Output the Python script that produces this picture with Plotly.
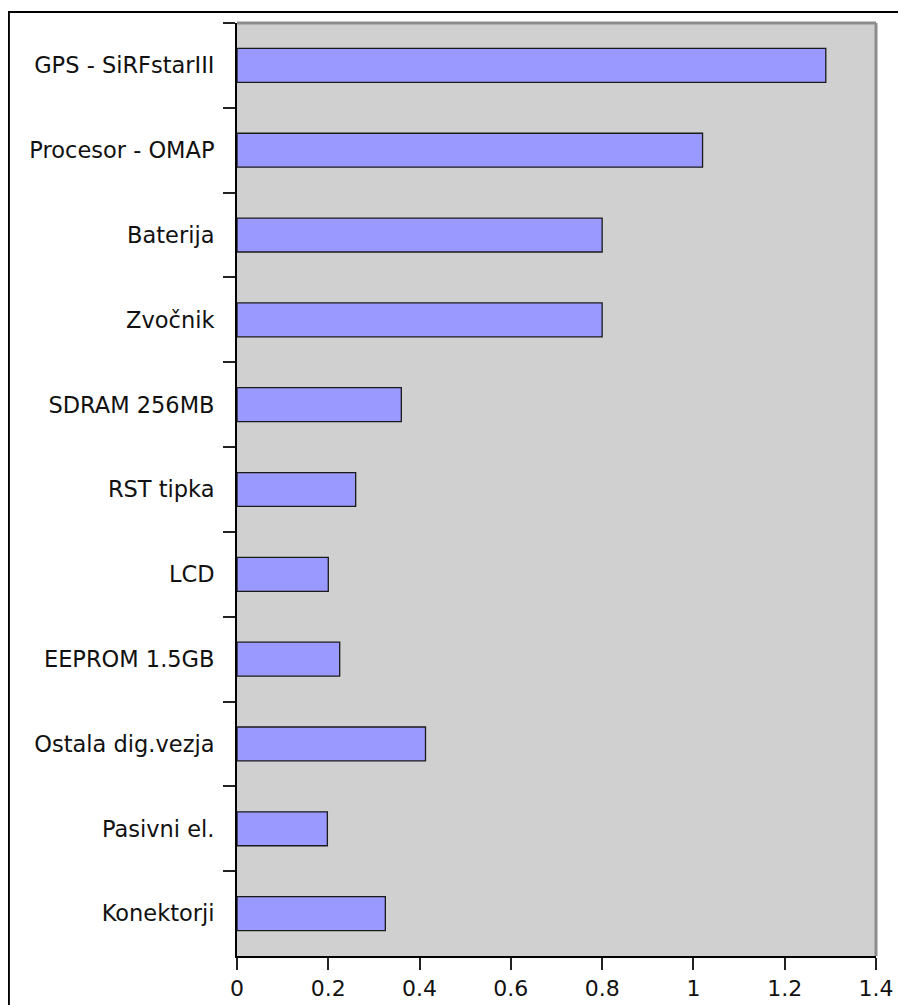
import plotly.graph_objects as go

categories = ["GPS - SiRFstarIII", "Procesor - OMAP", "Baterija", "Zvočnik",
              "SDRAM 256MB", "RST tipka", "LCD", "EEPROM 1.5GB",
              "Ostala dig.vezja", "Pasivni el.", "Konektorji"]
values = [1.29, 1.02, 0.80, 0.80, 0.36, 0.26, 0.20, 0.225, 0.413, 0.198, 0.325]
x_ticks = [0, 0.2, 0.4, 0.6, 0.8, 1, 1.2, 1.4]

fig = go.Figure()

fig.add_trace(go.Bar(
    x=values, y=categories, orientation="h", width=0.4,
    marker=dict(color="#9999ff", line=dict(color="#1a1a1a", width=1.3)),
    hoverinfo="x+y",
))

# outer frame (only top and left edges are visible in the window)
fig.add_shape(type="rect", xref="paper", yref="paper",
              x0=-0.357, x1=1.2, y0=-0.2, y1=1.0118,
              line=dict(color="black", width=2), layer="above")
# grey border on the top and right of the plot area
fig.add_shape(type="line", xref="paper", yref="paper",
              x0=0, x1=1, y0=1, y1=1, line=dict(color="#8c8c8c", width=3))
fig.add_shape(type="line", xref="paper", yref="paper",
              x0=1, x1=1, y0=0, y1=1, line=dict(color="#8c8c8c", width=3))

fig.update_layout(
    width=906, height=1005,
    margin=dict(l=229, r=38, t=15, b=54),
    paper_bgcolor="white",
    plot_bgcolor="#d0d0d0",
    showlegend=False,
    font=dict(family="DejaVu Sans", size=22, color="#111111"),
    xaxis=dict(
        range=[0, 1.4], tickvals=x_ticks, ticktext=[f"{v:g}" for v in x_ticks],
        showgrid=False, zeroline=False,
        showline=True, linecolor="black", linewidth=2,
        ticks="outside", ticklen=12, tickwidth=1.5, tickcolor="#222",
        tickfont=dict(size=22),
    ),
    yaxis=dict(
        autorange="reversed", type="category",
        showgrid=False, zeroline=False,
        showline=True, linecolor="black", linewidth=2,
        ticks="outside", tickson="boundaries", ticklen=12,
        tickwidth=1.5, tickcolor="#222",
        ticklabelstandoff=16,
        tickfont=dict(size=22.5),
    ),
)

fig.write_html("out.html")
